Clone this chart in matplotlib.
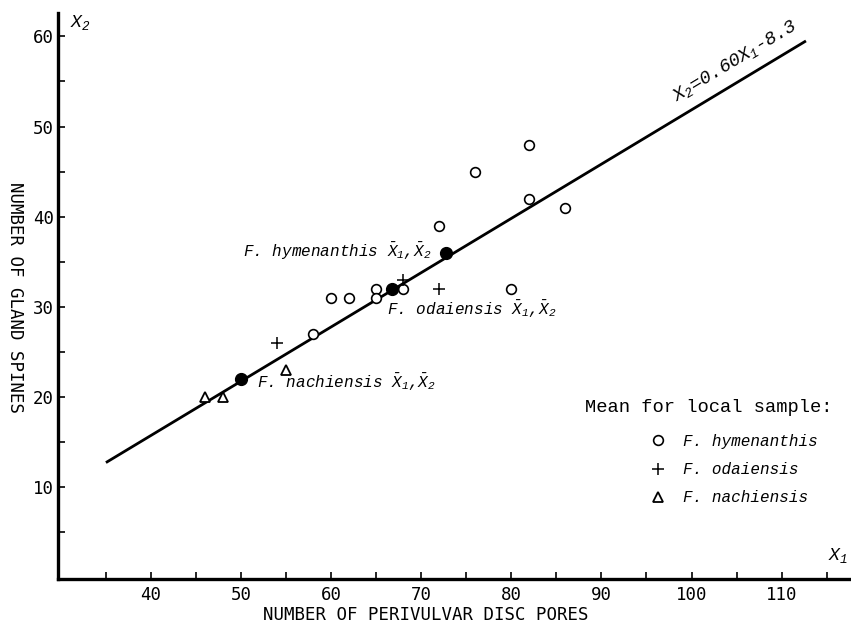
# encoding utf-8

import numpy as np
import matplotlib
matplotlib.use('Agg')
from matplotlib import pyplot as plt

# local sample means
hym_x = [76, 82, 82, 86, 72, 60, 62, 65, 65, 68, 80, 58]
hym_y = [45, 48, 42, 41, 39, 31, 31, 32, 31, 32, 32, 27]

oda_x = [68, 72, 54]
oda_y = [33, 32, 26]

nac_x = [46, 48, 55]
nac_y = [20, 20, 23]

# species means (filled dots)
mean_names = ['F. hymenanthis', 'F. odaiensis', 'F. nachiensis']
mean_x = [72.8, 66.7, 50.0]
mean_y = [36.0, 32.0, 22.0]

# regression line end points, X2 = 0.60 X1 - 8.3
line_x = [35.0, 112.7]
line_y = [12.7, 59.5]
line_label = r'$X_2$=0.60$X_1$-8.3'

x_ticks = [40, 50, 60, 70, 80, 90, 100, 110]
y_ticks = [10, 20, 30, 40, 50, 60]

MONO = 'DejaVu Sans Mono'
TYPE = 'Liberation Mono'

plt.rcParams['mathtext.fontset'] = 'custom'
plt.rcParams['mathtext.it'] = 'Liberation Mono:italic'
plt.rcParams['mathtext.rm'] = 'Liberation Mono:italic'
plt.rcParams['mathtext.bf'] = 'Liberation Mono:italic'


def main():
    fig = plt.figure(figsize=(8.51, 6.25), dpi=100)
    ax = fig.add_axes([58 / 851, 46 / 625, 793 / 851, 566 / 625])
    ax.set_xlim(29.68, 117.7)
    ax.set_ylim(-0.22, 62.6)

    # the fitted line
    ax.plot(line_x, line_y, color='black', lw=2.0, solid_capstyle='butt', zorder=2)

    # samples
    h1, = ax.plot(hym_x, hym_y, ls='none', marker='o', mfc='white', mec='black',
                  ms=7, mew=1.2, zorder=3, label='F. hymenanthis')
    h2, = ax.plot(oda_x, oda_y, ls='none', marker='+', color='black',
                  ms=8, mew=1.1, zorder=3, label='F. odaiensis')
    h3, = ax.plot(nac_x, nac_y, ls='none', marker='^', mfc='white', mec='black',
                  ms=7, mew=1.3, zorder=3, label='F. nachiensis')
    ax.plot(mean_x, mean_y, ls='none', marker='o', color='black', ms=8.5, zorder=4)

    # labels of the means
    offsets = [(-10.8, 1.2, 'right'), (-3, -14.6, 'left'), (11.5, -2.7, 'left')]
    for name, mx, my, (dx, dy, ha) in zip(mean_names, mean_x, mean_y, offsets):
        ax.annotate(name + r' $\bar{X}_1$,$\bar{X}_2$', xy=(mx, my),
                    xytext=(dx, dy), textcoords='offset points', ha=ha, va='center',
                    family=TYPE, style='italic', fontsize=11.5)

    # equation along the line
    ex, ey = 104.8, 57.3
    ang = ax.transData.transform_angles(
        np.array([np.degrees(np.arctan2(line_y[1] - line_y[0], line_x[1] - line_x[0]))]),
        np.array([[ex, ey]]))[0]
    ax.text(ex, ey, line_label, rotation=ang, rotation_mode='anchor',
            ha='center', va='center', family=TYPE, style='italic', fontsize=13.5)

    # axes styling
    for side in ['top', 'right']:
        ax.spines[side].set_visible(False)
    for side in ['left', 'bottom']:
        ax.spines[side].set_linewidth(2.4)

    ax.set_xticks(x_ticks)
    ax.set_yticks(y_ticks)
    ax.set_xticks([t + 5 for t in [30] + x_ticks], minor=True)
    ax.set_yticks([t - 5 for t in y_ticks], minor=True)
    ax.tick_params(which='both', direction='in', length=5, width=1.2, color='black')
    ax.tick_params(axis='x', pad=5)
    ax.tick_params(axis='y', pad=3)
    for lab in ax.get_xticklabels() + ax.get_yticklabels():
        lab.set_family(MONO)
        lab.set_fontsize(12.5)

    ax.set_xlabel('NUMBER OF PERIVULVAR DISC PORES', family=MONO, fontsize=12.5)
    ax.xaxis.set_label_coords(0.464, -0.047)
    ax.set_ylabel('NUMBER OF GLAND SPINES', family=MONO, fontsize=12.5,
                  rotation=270, va='center', ha='center')
    ax.yaxis.set_label_coords(-0.054, 0.497)

    ax.text(0.015, 0.984, r'$X_2$', transform=ax.transAxes, ha='left', va='center',
            family=TYPE, style='italic', fontsize=13)
    ax.text(0.971, 0.042, r'$X_1$', transform=ax.transAxes, ha='left', va='center',
            family=TYPE, style='italic', fontsize=13)

    # legend
    ax.text((585 - 58) / 793, (579 - 408) / 566, 'Mean for local sample:',
            transform=ax.transAxes, ha='left', va='center', family=TYPE, fontsize=13.5)
    ax.legend(handles=[h1, h2, h3], loc='upper left',
              bbox_to_anchor=((650 - 58) / 793, (579 - 434) / 566),
              frameon=False, borderpad=0, borderaxespad=0, handlelength=1.0,
              handletextpad=1.05, labelspacing=0.82,
              prop={'family': TYPE, 'style': 'italic', 'size': 11.5})

    fig.savefig('out.png', dpi=100)


if __name__ == '__main__':
    main()
